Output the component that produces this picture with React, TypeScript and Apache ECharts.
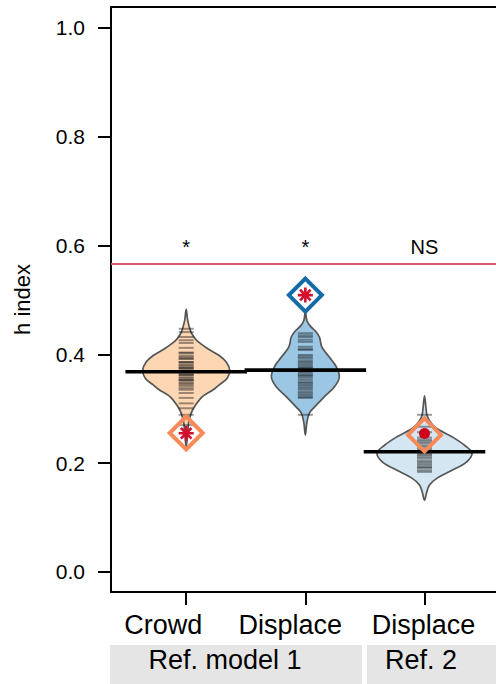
import React, { useEffect, useRef } from "react";
import * as echarts from "echarts";

// ---- data ----
const categories = ["Crowd", "Displace", "Displace"];
const groupLabels = ["Ref. model 1", "Ref. 2"];
const positions = [1, 2, 3];
const yTicks = [0, 0.2, 0.4, 0.6, 0.8, 1.0];
const means = [0.368, 0.371, 0.221];
const refLineValue = 0.566;
const sigLabels = ["*", "*", "NS"];
const sigLevel = 0.598;
const observedValues = [0.2555, 0.509, 0.252];
const asteriskValues = [
  [1, 0.255],
  [2, 0.509],
];
const dotValues = [[3, 0.2545]];

// violin outlines: [h index, half width in axis units]
const crowdOutline = [
  [0.483, 0], [0.462, 0.013], [0.445, 0.034], [0.437, 0.05], [0.425, 0.092],
  [0.41, 0.185], [0.398, 0.277], [0.386, 0.336], [0.371, 0.365], [0.356, 0.344],
  [0.344, 0.277], [0.335, 0.227], [0.322, 0.134], [0.303, 0.067], [0.292, 0.042],
  [0.275, 0.021], [0.25, 0.01], [0.23, 0],
];
const displaceOutline = [
  [0.478, 0], [0.462, 0.013], [0.452, 0.042], [0.443, 0.084], [0.432, 0.118],
  [0.414, 0.138], [0.395, 0.201], [0.377, 0.26], [0.358, 0.285], [0.34, 0.243],
  [0.322, 0.159], [0.303, 0.076], [0.292, 0.034], [0.275, 0.013], [0.252, 0],
];
const ref2Outline = [
  [0.324, 0], [0.3, 0.013], [0.285, 0.025], [0.267, 0.084], [0.248, 0.235],
  [0.233, 0.336], [0.219, 0.399], [0.202, 0.352], [0.1875, 0.235], [0.173, 0.109],
  [0.16, 0.042], [0.145, 0.017], [0.132, 0],
];

// individual observations (bean lines)
const crowdStrips = [
  0.447, 0.441, 0.432, 0.426, 0.421, 0.412, 0.403, 0.403, 0.398, 0.395, 0.392, 0.392,
  0.386, 0.386, 0.383, 0.38, 0.378, 0.375, 0.375, 0.372, 0.368, 0.368, 0.365, 0.362,
  0.362, 0.358, 0.356, 0.353, 0.353, 0.35, 0.347, 0.345, 0.342, 0.338, 0.335, 0.329,
  0.32, 0.31, 0.301, 0.289, 0.27,
];
const displaceStrips = [
  0.439, 0.435, 0.432, 0.427, 0.423, 0.414, 0.41, 0.408, 0.399, 0.396, 0.393, 0.389,
  0.386, 0.383, 0.38, 0.377, 0.375, 0.372, 0.368, 0.365, 0.362, 0.36, 0.357, 0.353,
  0.349, 0.347, 0.344, 0.341, 0.338, 0.335, 0.331, 0.328, 0.325, 0.322, 0.32, 0.289,
];
const ref2Strips = [
  0.289, 0.267, 0.257, 0.247, 0.243, 0.24, 0.237, 0.233, 0.23, 0.226, 0.221, 0.218,
  0.215, 0.212, 0.209, 0.205, 0.202, 0.199, 0.196, 0.193, 0.191, 0.187, 0.184,
];

const outlines = [crowdOutline, displaceOutline, ref2Outline];
const strips = [crowdStrips, displaceStrips, ref2Strips];
const fillColors = ["#fdd7b4", "#9cc7e4", "#d3e6f1"];
const diamondColors = ["#f78a58", "#156aa8", "#f78a58"];

const FONT = "'Liberation Sans', Arial, Helvetica, sans-serif";

export default function App() {
  const ref = useRef<HTMLDivElement>(null);

  useEffect(() => {
    if (!ref.current) return;
    const chart = echarts.init(ref.current, undefined, { renderer: "svg" });

    const xMin = 0.369;
    const xMax = 3.6;

    const beanData = positions.map((p, i) => [p, means[i]]);

    const option: any = {
      animation: false,
      grid: {
        left: 111,
        right: 0,
        top: 7,
        bottom: 92,
        outerBoundsMode: "none",
        containLabel: false,
      },
      xAxis: [
        {
          type: "value",
          min: xMin,
          max: xMax,
          position: "bottom",
          splitLine: { show: false },
          axisLine: { show: true, onZero: false, lineStyle: { color: "#000", width: 2 } },
          axisTick: {
            show: true,
            customValues: positions,
            length: 13,
            lineStyle: { color: "#000", width: 2 },
          },
          axisLabel: {
            show: true,
            customValues: positions,
            margin: 19,
            formatter: (v: number) => {
              const i = positions.indexOf(Math.round(v));
              return `{c${i}|${categories[i]}}`;
            },
            rich: {
              c0: { fontSize: 27, fontFamily: FONT, color: "#000", padding: [0, 46, 0, 0] },
              c1: { fontSize: 27, fontFamily: FONT, color: "#000", padding: [0, 30, 0, 0] },
              c2: { fontSize: 27, fontFamily: FONT, color: "#000", padding: [0, 2, 0, 0] },
            },
          },
        },
        {
          type: "value",
          min: xMin,
          max: xMax,
          position: "top",
          splitLine: { show: false },
          axisLine: { show: true, onZero: false, lineStyle: { color: "#000", width: 2 } },
          axisTick: { show: false },
          axisLabel: { show: false },
        },
      ],
      yAxis: {
        type: "value",
        min: -0.0368,
        max: 1.0386,
        name: "h index",
        nameLocation: "middle",
        nameGap: 78,
        nameTextStyle: { fontSize: 22, fontFamily: FONT, color: "#000" },
        splitLine: { show: false },
        axisLine: { show: true, onZero: false, lineStyle: { color: "#000", width: 2 } },
        axisTick: {
          show: true,
          customValues: yTicks,
          length: 13,
          lineStyle: { color: "#000", width: 2 },
        },
        axisLabel: {
          show: true,
          customValues: yTicks,
          margin: 26,
          fontSize: 21,
          fontFamily: FONT,
          color: "#000",
          formatter: (v: number) => v.toFixed(1),
        },
      },
      series: [
        {
          type: "line",
          data: [
            [xMin, refLineValue],
            [xMax, refLineValue],
          ],
          silent: true,
          symbol: "none",
          lineStyle: { color: "#e0566f", width: 2, type: "solid", opacity: 1 },
        },
        {
          type: "custom",
          data: beanData,
          encode: { x: 0, y: 1 },
          clip: false,
          silent: true,
          renderItem: (params: any, api: any) => {
            const i = params.dataIndex;
            const pos = api.value(0);
            const mean = api.value(1);
            const cx = api.coord([pos, 0])[0];
            const unit = api.size([1, 0])[0];
            const yOf = (v: number) => api.coord([pos, v])[1];
            const outline = outlines[i];
            const pts: number[][] = [];
            outline.forEach((o) => pts.push([cx + o[1] * unit, yOf(o[0])]));
            for (let k = outline.length - 2; k >= 1; k--) {
              pts.push([cx - outline[k][1] * unit, yOf(outline[k][0])]);
            }
            const children: any[] = [
              {
                type: "polygon",
                shape: { points: pts, smooth: 0.35 },
                style: { fill: fillColors[i], stroke: "#555555", lineWidth: 1.7 },
              },
            ];
            const hw = 0.063 * unit;
            strips[i].forEach((v) => {
              const y = yOf(v);
              children.push({
                type: "line",
                shape: { x1: cx - hw, y1: y, x2: cx + hw, y2: y },
                style: { stroke: "rgba(20,20,20,0.42)", lineWidth: 2 },
              });
            });
            const my = yOf(mean);
            children.push({
              type: "line",
              shape: { x1: cx - 0.51 * unit, y1: my, x2: cx + 0.51 * unit, y2: my },
              style: { stroke: "#000", lineWidth: 3.6 },
            });
            children.push({
              type: "text",
              x: cx,
              y: yOf(sigLevel),
              style: {
                text: sigLabels[i],
                fontSize: 20,
                fontFamily: FONT,
                fill: "#000",
                align: "center",
                verticalAlign: "middle",
              },
            });
            return { type: "group", children };
          },
        },
        {
          type: "scatter",
          symbol: "diamond",
          symbolSize: 33,
          silent: true,
          data: positions.map((p, i) => ({
            value: [p, observedValues[i]],
            itemStyle: {
              color: "rgba(0,0,0,0)",
              borderColor: diamondColors[i],
              borderWidth: 4,
              opacity: 1,
            },
          })),
        },
        {
          type: "scatter",
          symbol:
            "path://M0,-10L0,10M-10,0L10,0M-7.07,-7.07L7.07,7.07M-7.07,7.07L7.07,-7.07",
          symbolSize: 15,
          silent: true,
          itemStyle: { color: "rgba(0,0,0,0)", borderColor: "#d40f2c", borderWidth: 2.6, opacity: 1 },
          data: asteriskValues,
        },
        {
          type: "scatter",
          symbol: "circle",
          symbolSize: 11,
          silent: true,
          itemStyle: { color: "#d0021b", opacity: 1 },
          data: dotValues,
        },
      ],
      graphic: [
        { type: "rect", shape: { x: 110, y: 645, width: 252, height: 50 }, style: { fill: "#e5e5e5" }, silent: true },
        { type: "rect", shape: { x: 367, y: 645, width: 140, height: 50 }, style: { fill: "#e5e5e5" }, silent: true },
        {
          type: "text",
          x: 225,
          y: 660,
          style: { text: groupLabels[0], fontSize: 27, fontFamily: FONT, fill: "#000", align: "center", verticalAlign: "middle" },
        },
        {
          type: "text",
          x: 421,
          y: 660,
          style: { text: groupLabels[1], fontSize: 27, fontFamily: FONT, fill: "#000", align: "center", verticalAlign: "middle" },
        },
      ],
    };

    chart.setOption(option);
    return () => chart.dispose();
  }, []);

  return (
    <div
      ref={ref}
      style={{ position: "fixed", left: 0, top: 0, width: 496, height: 684, background: "#fff" }}
    />
  );
}
